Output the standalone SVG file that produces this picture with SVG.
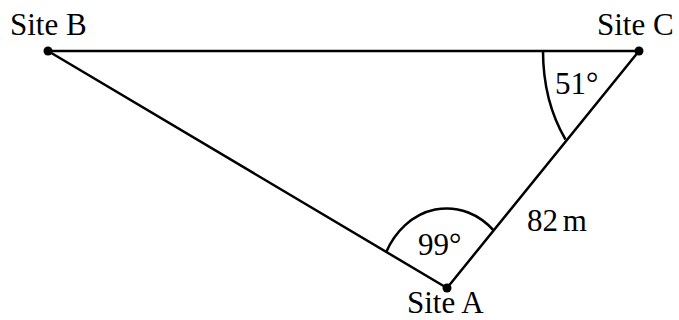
<svg xmlns="http://www.w3.org/2000/svg" width="679" height="320" viewBox="0 0 679 320">
<style>
.ln{stroke:#000;stroke-width:2.5;fill:none;stroke-linecap:round}
.arc{stroke:#000;stroke-width:2.5;fill:none}
.dot{fill:#000}
text{font-family:"Liberation Serif","Times New Roman",serif;font-size:31px;fill:#000}
</style>
<rect width="679" height="320" fill="#fff"/>
<g id="connectors">
<line class="ln" x1="48" y1="51" x2="639" y2="51"/>
<line class="ln" x1="48" y1="51" x2="447" y2="288"/>
<line class="ln" x1="639" y1="51" x2="447" y2="288"/>
<path class="arc" d="M543 51 A96 138 0 0 0 565.5 139.5"/>
<path class="arc" d="M386.1 252.3 A68 80 0 0 1 493.6 230.4"/>
</g>
<g id="siteB"><circle class="dot" cx="48" cy="51" r="4.5"/><text x="10" y="35">Site B</text></g>
<g id="siteC"><circle class="dot" cx="639" cy="51" r="4.5"/><text x="597" y="35">Site C</text></g>
<g id="siteA"><circle class="dot" cx="447" cy="288" r="4.5"/><text x="407" y="313">Site A</text></g>
<g id="labels">
<text x="418" y="255">99°</text>
<text x="555" y="94">51°</text>
<text x="527" y="231">82<tspan dx="-3"> m</tspan></text>
</g>
</svg>
